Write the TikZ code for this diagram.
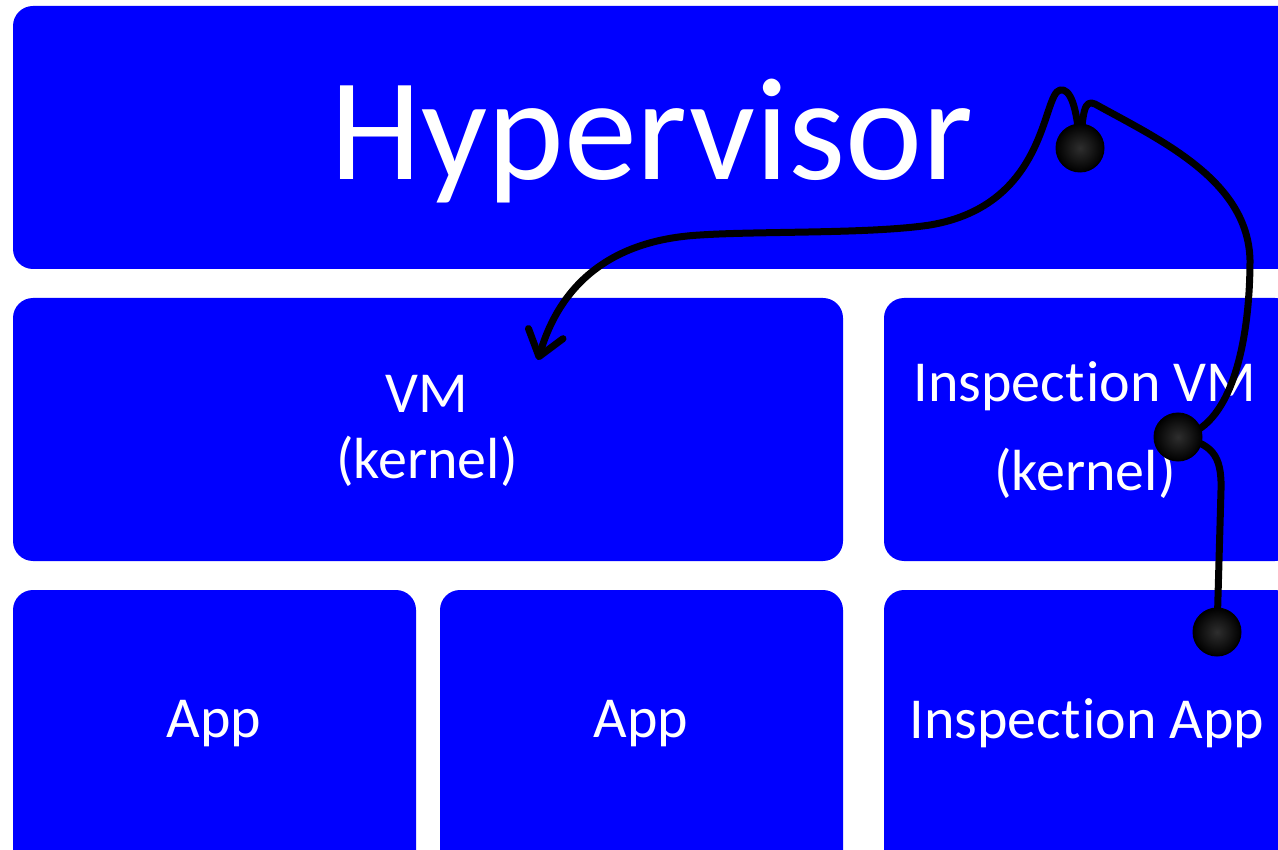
\documentclass[tikz,border=0pt]{standalone}
\usepackage{fontspec}
\setmainfont{Carlito}[RawFeature={-liga;-clig;-dlig}]
\usetikzlibrary{arrows.meta}
\definecolor{boxblue}{RGB}{0,0,255}
\tikzset{
  blk/.style={fill=boxblue, rounded corners=20pt, draw=none},
  lbl/.style={text=white, font=\fontsize{58}{62}\selectfont, anchor=base, inner sep=0pt},
  bigl/.style={text=white, font=\fontsize{146}{150}\selectfont, anchor=base, inner sep=0pt},
  wire/.style={line width=7pt, black, line cap=round, line join=round},
  dot/.style={circle, minimum size=48pt, inner sep=0pt, draw=black, line width=1pt, inner color=black!82, outer color=black},
}
\begin{document}
\begin{tikzpicture}[x=1pt, y=-1pt]
\useasboundingbox (0,0) rectangle (1278,850);
\clip (0,0) rectangle (1278,850);
\fill[white] (0,0) rectangle (1278,850);

% boxes
\path[blk] (13,6) rectangle (1310,269);
\path[blk] (13,298) rectangle (843,561);
\path[blk] (884,298) rectangle (1295,561);
\path[blk] (13,590) rectangle (416,870);
\path[blk] (440,590) rectangle (843,870);
\path[blk] (884,590) rectangle (1295,870);

% labels
\node[bigl] (hyp) at (652,180) {Hypervisor};
\node[lbl] (vm) at (427,413) {VM};
\node[lbl] (vmk) at (427,478) {(kernel)};
\node[lbl] (ivm) at (1085,402) {Inspect\kern1.5pt ion VM};
\node[lbl] (ivmk) at (1085,490) {(kernel)};
\node[lbl] (app1) at (214,737) {App};
\node[lbl] (app2) at (641,737) {App};
\node[lbl] (iapp) at (1087,738) {Inspect\kern1.5pt ion App};

% dot positions
\coordinate (p1) at (1080,148);
\coordinate (p2) at (1178,437);
\coordinate (p3) at (1217,632);
\coordinate (vmtip) at (538,360);

% wires
\draw[wire] (p3) -- (1221,490) .. controls (1222,455) and (1212,443) .. (p2);
\draw[wire] (p2) .. controls (1232,430) and (1250,340) .. (1250,260)
   .. controls (1248,180) and (1160,140) .. (1095,104)
   .. controls (1084,99) and (1083,112) .. (p1);
\draw[wire, -{Straight Barb[length=24pt, width=36pt, line cap=round, line join=round]}]
   (p1) .. controls (1077,105) and (1070,88) .. (1060,90)
   .. controls (1042,94) and (1048,205) .. (930,225)
   .. controls (870,234) and (760,231) .. (700,235)
   .. controls (610,240) and (560,285) .. (vmtip);

% dots
\node[dot] (d1) at (p1) {};
\node[dot] (d2) at (p2) {};
\node[dot] (d3) at (p3) {};
\end{tikzpicture}
\end{document}
